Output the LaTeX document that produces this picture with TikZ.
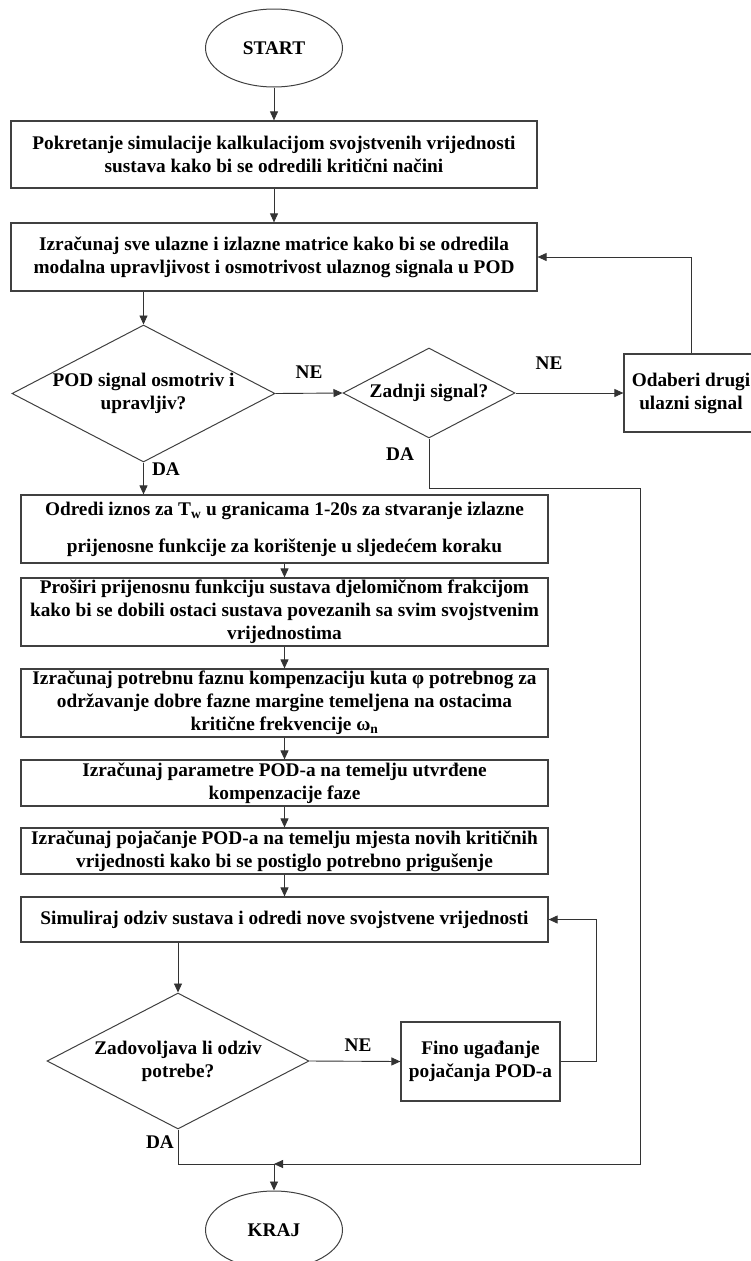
\documentclass[tikz,border=0pt]{standalone}
\usepackage{fontspec}
\setmainfont{Liberation Serif}
\usetikzlibrary{arrows.meta,shapes.geometric}

\begin{document}
\begin{tikzpicture}[x=1pt,y=1pt]
\tikzstyle{every node}+=[inner sep=0pt, align=center, font=\fontsize{19.3}{23}\selectfont\bfseries]
\tikzstyle{box}=[draw=black!75, line width=1.2pt, rectangle]
\tikzstyle{term}=[draw=black!75, line width=1pt, ellipse, minimum width=137, minimum height=78]
\tikzstyle{test}=[draw=black!75, line width=1pt, diamond, shape aspect=1.92]
\tikzstyle{arr}=[draw=black!80, line width=0.9pt, -{Triangle[length=9pt,width=8pt]}]
\tikzstyle{line}=[draw=black!80, line width=0.9pt]
\useasboundingbox (0,0) rectangle (750,-1261);
\node [term] (start) at (274,-48) {START};
\node [box, minimum width=526, minimum height=67] (calc) at (274,-154.5) {Pokretanje simulacije kalkulacijom svojstvenih vrijednosti\\sustava kako bi se odredili kritični načini};
\node [box, minimum width=526, minimum height=68] (matrices) at (274,-257) {Izračunaj sve ulazne i izlazne matrice kako bi se odredila\\modalna upravljivost i osmotrivost ulaznog signala u POD};
\node [test, minimum width=263, minimum height=137] (check) at (143.5,-393.5) {POD signal osmotriv i\\upravljiv?};
\node [test, minimum width=172, minimum height=90] (last) at (429,-393) {Zadnji signal?};
\node [box, minimum width=134, minimum height=78] (other) at (691,-393) {Odaberi drugi\\ulazni signal};
\node [box, minimum width=527, minimum height=68] (tw) at (284.5,-529) {Odredi iznos za T\textsubscript{w} u granicama 1-20s za stvaranje izlazne\\[14pt]prijenosne funkcije za korištenje u sljedećem koraku};
\node [box, minimum width=527, minimum height=68] (expand) at (284.5,-612) {Proširi prijenosnu funkciju sustava djelomičnom frakcijom\\kako bi se dobili ostaci sustava povezanih sa svim svojstvenim\\vrijednostima};
\node [box, minimum width=527, minimum height=68] (phase) at (284.5,-703) {Izračunaj potrebnu faznu kompenzaciju kuta φ potrebnog za\\održavanje dobre fazne margine temeljena na ostacima\\kritične frekvencije ω\textsubscript{n}};
\node [box, minimum width=527, minimum height=46] (param) at (284.5,-783) {Izračunaj parametre POD-a na temelju utvrđene\\kompenzacije faze};
\node [box, minimum width=527, minimum height=46] (gain) at (284.5,-851) {Izračunaj pojačanje POD-a na temelju mjesta novih kritičnih\\vrijednosti kako bi se postiglo potrebno prigušenje};
\node [box, minimum width=527, minimum height=45] (sim) at (284.5,-919.5) {Simuliraj odziv sustava i odredi nove svojstvene vrijednosti};
\node [test, minimum width=262, minimum height=136] (resp) at (178,-1061) {Zadovoljava li odziv\\potrebe?};
\node [box, minimum width=159, minimum height=79] (fine) at (480.5,-1061.5) {Fino ugađanje\\pojačanja POD-a};
\node [term] (stop) at (274,-1230) {KRAJ};
\coordinate (bypass) at (640,-488);
\coordinate (join) at (274,-1164);
% labels
\node (ne1) at (309,-372) {NE};
\node (ne2) at (549,-363) {NE};
\node (da1) at (166,-469) {DA};
\node (da2) at (400,-454) {DA};
\node (ne3) at (358,-1045) {NE};
\node (da3) at (160,-1142) {DA};
% connectors
\draw [arr] (start) -- (calc);
\draw [arr] (calc) -- (matrices);
\draw [arr] (matrices.south -| check.north) -- (check.north);
\draw [arr] (check.east) -- (last.west);
\draw [arr] (last.east) -- (other.west);
\draw [arr] (other.north) |- (matrices.east);
\draw [arr] (check.south) -- (check.south |- tw.north);
\draw [arr] (tw) -- (expand);
\draw [arr] (expand) -- (phase);
\draw [arr] (phase) -- (param);
\draw [arr] (param) -- (gain);
\draw [arr] (gain) -- (sim);
\draw [arr] (sim.south -| resp.north) -- (resp.north);
\draw [arr] (resp.east) -- (fine.west);
\draw [arr] (fine.east) -- ++(36,0) |- (sim.east);
\draw [line] (resp.south) |- (join);
\draw [arr] (last.south) |- (bypass) |- (join);
\draw [arr] (join) -- (stop);
\end{tikzpicture}
\end{document}
